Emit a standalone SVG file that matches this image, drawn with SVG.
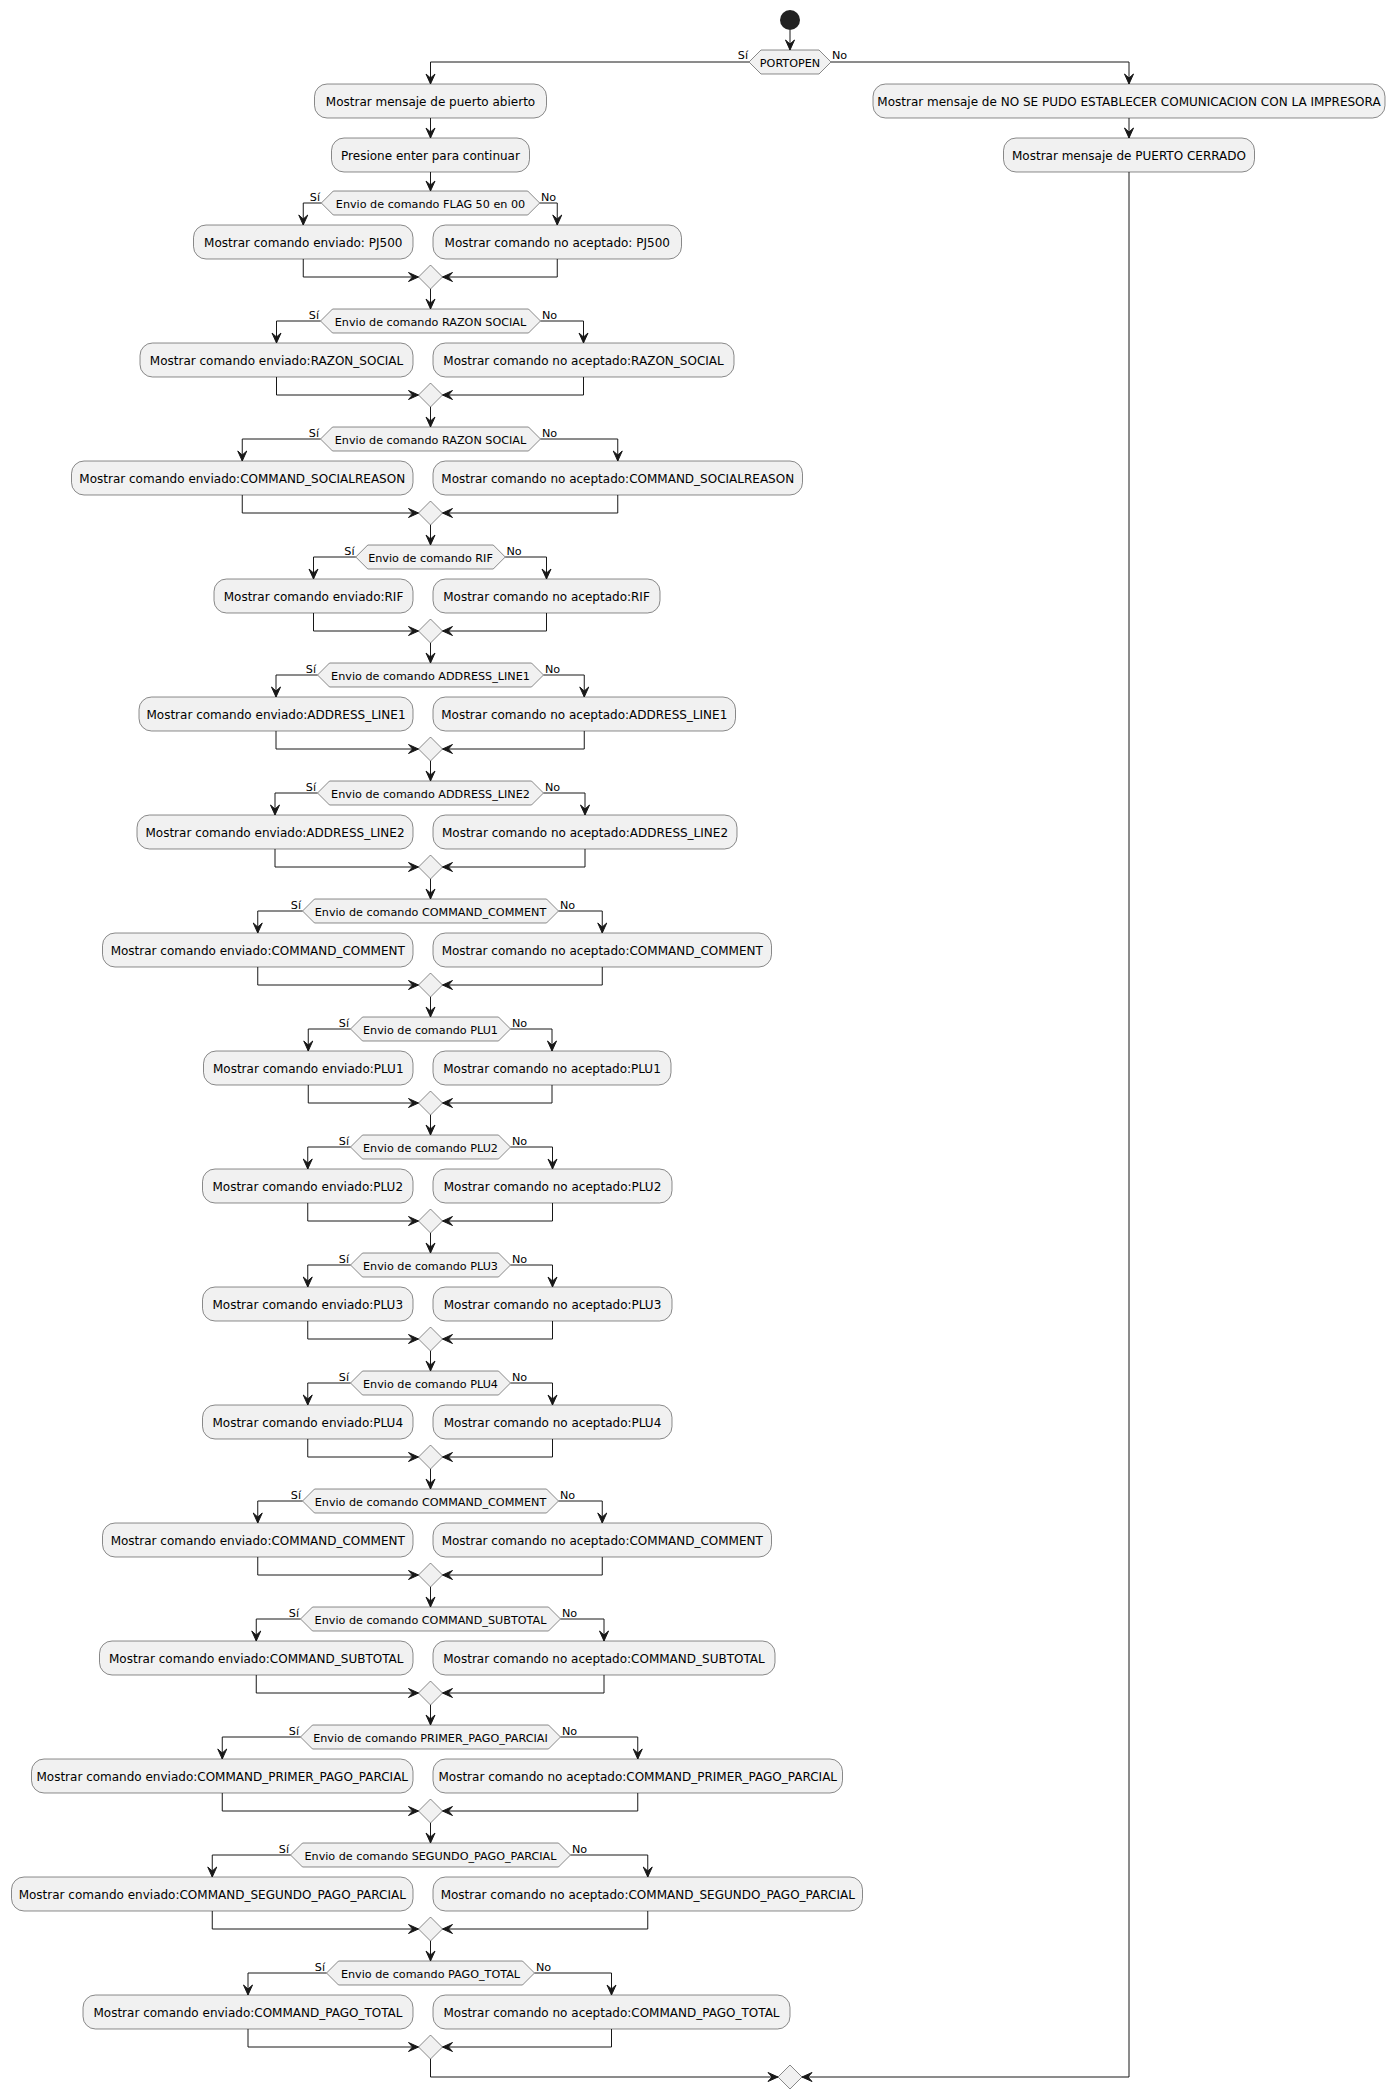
<svg xmlns="http://www.w3.org/2000/svg" width="1395" height="2100" viewBox="0 0 1395 2100">
<defs>
<style>
.box{fill:#F1F1F1;stroke:#181818;stroke-width:0.5}
.hex{fill:#F1F1F1;stroke:#181818;stroke-width:0.5}
.t{font-family:"DejaVu Sans",sans-serif;font-size:12px;fill:#000;text-anchor:middle}
.ht{font-family:"DejaVu Sans",sans-serif;font-size:11.2px;fill:#000;text-anchor:middle}
.si{font-family:"DejaVu Sans",sans-serif;font-size:11.2px;fill:#000;text-anchor:end}
.no{font-family:"DejaVu Sans",sans-serif;font-size:11.2px;fill:#000;text-anchor:start}
.c{fill:none;stroke:#181818;stroke-width:1;marker-end:url(#ah)}
</style>
<marker id="ah" markerWidth="14" markerHeight="12" refX="11" refY="6" orient="auto" markerUnits="userSpaceOnUse" viewBox="0 0 14 12"><path d="M1,1.5 L11,6 L1,10.5 L5,6 Z" fill="#181818" stroke="#181818" stroke-width="1" stroke-linejoin="miter"/></marker>
</defs>
<rect width="1395" height="2100" fill="#FFFFFF"/>
<g id="connectors">
<path class="c" d="M790,30 V50"/>
<path class="c" d="M749,62 H430.5 V84"/>
<path class="c" d="M430.5,118 V138"/>
<path class="c" d="M430.5,172 V191"/>
<path class="c" d="M831,62 H1129 V84"/>
<path class="c" d="M1129,118 V138"/>
<path class="c" d="M1129,172 V2077 H802"/>
<path class="c" d="M321.3,203 H303.25 V225"/><path class="c" d="M539.7,203 H557.25 V225"/>
<path class="c" d="M303.25,259 V277 H418.5"/><path class="c" d="M557.25,259 V277 H442.5"/>
<path class="c" d="M430.5,289 V309"/>
<path class="c" d="M320.5,321 H276.5 V343"/><path class="c" d="M540.5,321 H583.5 V343"/>
<path class="c" d="M276.5,377 V395 H418.5"/><path class="c" d="M583.5,377 V395 H442.5"/>
<path class="c" d="M430.5,407 V427"/>
<path class="c" d="M320.5,439 H242.25 V461"/><path class="c" d="M540.5,439 H617.75 V461"/>
<path class="c" d="M242.25,495 V513 H418.5"/><path class="c" d="M617.75,495 V513 H442.5"/>
<path class="c" d="M430.5,525 V545"/>
<path class="c" d="M355.75,557 H313.5 V579"/><path class="c" d="M505.25,557 H546.5 V579"/>
<path class="c" d="M313.5,613 V631 H418.5"/><path class="c" d="M546.5,613 V631 H442.5"/>
<path class="c" d="M430.5,643 V663"/>
<path class="c" d="M317.5,675 H276 V697"/><path class="c" d="M543.5,675 H584.25 V697"/>
<path class="c" d="M276,731 V749 H418.5"/><path class="c" d="M584.25,731 V749 H442.5"/>
<path class="c" d="M430.5,761 V781"/>
<path class="c" d="M317.5,793 H275 V815"/><path class="c" d="M543.5,793 H585 V815"/>
<path class="c" d="M275,849 V867 H418.5"/><path class="c" d="M585,849 V867 H442.5"/>
<path class="c" d="M430.5,879 V899"/>
<path class="c" d="M302.5,911 H257.75 V933"/><path class="c" d="M558.5,911 H602.25 V933"/>
<path class="c" d="M257.75,967 V985 H418.5"/><path class="c" d="M602.25,967 V985 H442.5"/>
<path class="c" d="M430.5,997 V1017"/>
<path class="c" d="M350.5,1029 H308.25 V1051"/><path class="c" d="M510.5,1029 H552 V1051"/>
<path class="c" d="M308.25,1085 V1103 H418.5"/><path class="c" d="M552,1085 V1103 H442.5"/>
<path class="c" d="M430.5,1115 V1135"/>
<path class="c" d="M350.5,1147 H307.75 V1169"/><path class="c" d="M510.5,1147 H552.5 V1169"/>
<path class="c" d="M307.75,1203 V1221 H418.5"/><path class="c" d="M552.5,1203 V1221 H442.5"/>
<path class="c" d="M430.5,1233 V1253"/>
<path class="c" d="M350.5,1265 H307.75 V1287"/><path class="c" d="M510.5,1265 H552.5 V1287"/>
<path class="c" d="M307.75,1321 V1339 H418.5"/><path class="c" d="M552.5,1321 V1339 H442.5"/>
<path class="c" d="M430.5,1351 V1371"/>
<path class="c" d="M350.5,1383 H307.75 V1405"/><path class="c" d="M510.5,1383 H552.5 V1405"/>
<path class="c" d="M307.75,1439 V1457 H418.5"/><path class="c" d="M552.5,1439 V1457 H442.5"/>
<path class="c" d="M430.5,1469 V1489"/>
<path class="c" d="M302.5,1501 H257.75 V1523"/><path class="c" d="M558.5,1501 H602.25 V1523"/>
<path class="c" d="M257.75,1557 V1575 H418.5"/><path class="c" d="M602.25,1557 V1575 H442.5"/>
<path class="c" d="M430.5,1587 V1607"/>
<path class="c" d="M300.5,1619 H256.25 V1641"/><path class="c" d="M560.5,1619 H604 V1641"/>
<path class="c" d="M256.25,1675 V1693 H418.5"/><path class="c" d="M604,1675 V1693 H442.5"/>
<path class="c" d="M430.5,1705 V1725"/>
<path class="c" d="M300.5,1737 H222.25 V1759"/><path class="c" d="M560.5,1737 H637.75 V1759"/>
<path class="c" d="M222.25,1793 V1811 H418.5"/><path class="c" d="M637.75,1793 V1811 H442.5"/>
<path class="c" d="M430.5,1823 V1843"/>
<path class="c" d="M290.5,1855 H212.25 V1877"/><path class="c" d="M570.5,1855 H647.75 V1877"/>
<path class="c" d="M212.25,1911 V1929 H418.5"/><path class="c" d="M647.75,1911 V1929 H442.5"/>
<path class="c" d="M430.5,1941 V1961"/>
<path class="c" d="M326.5,1973 H248 V1995"/><path class="c" d="M534.5,1973 H611.5 V1995"/>
<path class="c" d="M248,2029 V2047 H418.5"/><path class="c" d="M611.5,2029 V2047 H442.5"/>
<path class="c" d="M430.5,2059 V2077 H778"/>
</g>
<g id="start"><circle cx="790" cy="20" r="10" fill="#222222"/></g>
<g id="portopen"><polygon class="hex" points="749,62 761,50 819,50 831,62 819,74 761,74"/><text class="ht" x="790" y="66.5">PORTOPEN</text><text class="si" x="748" y="59">Sí</text><text class="no" x="832" y="59">No</text></g>
<g id="abierto"><rect class="box" x="314.5" y="84" width="232" height="34" rx="12.5"/><text class="t" x="430.5" y="105.5">Mostrar mensaje de puerto abierto</text></g>
<g id="presione"><rect class="box" x="331.5" y="138" width="198" height="34" rx="12.5"/><text class="t" x="430.5" y="159.5">Presione enter para continuar</text></g>
<g id="nocom"><rect class="box" x="873" y="84" width="512" height="34" rx="12.5"/><text class="t" x="1129" y="105.5">Mostrar mensaje de NO SE PUDO ESTABLECER COMUNICACION CON LA IMPRESORA</text></g>
<g id="cerrado"><rect class="box" x="1003.5" y="138" width="251" height="34" rx="12.5"/><text class="t" x="1129" y="159.5">Mostrar mensaje de PUERTO CERRADO</text></g>

<g id="d1"><polygon class="hex" points="321.3,203 333.3,191 527.7,191 539.7,203 527.7,215 333.3,215"/><text class="ht" x="430.5" y="207.5">Envio de comando FLAG 50 en 00</text><text class="si" x="320" y="200.5">Sí</text><text class="no" x="541" y="200.5">No</text></g>
<g id="s1"><rect class="box" x="193.5" y="225" width="219.5" height="34" rx="12.5"/><text class="t" x="303.25" y="246.5">Mostrar comando enviado: PJ500</text></g>
<g id="n1"><rect class="box" x="433" y="225" width="248.5" height="34" rx="12.5"/><text class="t" x="557.25" y="246.5">Mostrar comando no aceptado: PJ500</text></g>
<g id="m1"><polygon class="hex" points="430.5,265 442.5,277 430.5,289 418.5,277"/></g>

<g id="d2"><polygon class="hex" points="320.5,321 332.5,309 528.5,309 540.5,321 528.5,333 332.5,333"/><text class="ht" x="430.5" y="325.5">Envio de comando RAZON SOCIAL</text><text class="si" x="319" y="318.5">Sí</text><text class="no" x="542" y="318.5">No</text></g>
<g id="s2"><rect class="box" x="140" y="343" width="273" height="34" rx="12.5"/><text class="t" x="276.5" y="364.5">Mostrar comando enviado:RAZON_SOCIAL</text></g>
<g id="n2"><rect class="box" x="433" y="343" width="301" height="34" rx="12.5"/><text class="t" x="583.5" y="364.5">Mostrar comando no aceptado:RAZON_SOCIAL</text></g>
<g id="m2"><polygon class="hex" points="430.5,383 442.5,395 430.5,407 418.5,395"/></g>

<g id="d3"><polygon class="hex" points="320.5,439 332.5,427 528.5,427 540.5,439 528.5,451 332.5,451"/><text class="ht" x="430.5" y="443.5">Envio de comando RAZON SOCIAL</text><text class="si" x="319" y="436.5">Sí</text><text class="no" x="542" y="436.5">No</text></g>
<g id="s3"><rect class="box" x="71.5" y="461" width="341.5" height="34" rx="12.5"/><text class="t" x="242.25" y="482.5">Mostrar comando enviado:COMMAND_SOCIALREASON</text></g>
<g id="n3"><rect class="box" x="433" y="461" width="369.5" height="34" rx="12.5"/><text class="t" x="617.75" y="482.5">Mostrar comando no aceptado:COMMAND_SOCIALREASON</text></g>
<g id="m3"><polygon class="hex" points="430.5,501 442.5,513 430.5,525 418.5,513"/></g>

<g id="d4"><polygon class="hex" points="355.75,557 367.75,545 493.25,545 505.25,557 493.25,569 367.75,569"/><text class="ht" x="430.5" y="561.5">Envio de comando RIF</text><text class="si" x="354.5" y="554.5">Sí</text><text class="no" x="506.5" y="554.5">No</text></g>
<g id="s4"><rect class="box" x="214" y="579" width="199" height="34" rx="12.5"/><text class="t" x="313.5" y="600.5">Mostrar comando enviado:RIF</text></g>
<g id="n4"><rect class="box" x="433" y="579" width="227" height="34" rx="12.5"/><text class="t" x="546.5" y="600.5">Mostrar comando no aceptado:RIF</text></g>
<g id="m4"><polygon class="hex" points="430.5,619 442.5,631 430.5,643 418.5,631"/></g>

<g id="d5"><polygon class="hex" points="317.5,675 329.5,663 531.5,663 543.5,675 531.5,687 329.5,687"/><text class="ht" x="430.5" y="679.5">Envio de comando ADDRESS_LINE1</text><text class="si" x="316" y="672.5">Sí</text><text class="no" x="545" y="672.5">No</text></g>
<g id="s5"><rect class="box" x="139" y="697" width="274" height="34" rx="12.5"/><text class="t" x="276" y="718.5">Mostrar comando enviado:ADDRESS_LINE1</text></g>
<g id="n5"><rect class="box" x="433" y="697" width="302.5" height="34" rx="12.5"/><text class="t" x="584.25" y="718.5">Mostrar comando no aceptado:ADDRESS_LINE1</text></g>
<g id="m5"><polygon class="hex" points="430.5,737 442.5,749 430.5,761 418.5,749"/></g>

<g id="d6"><polygon class="hex" points="317.5,793 329.5,781 531.5,781 543.5,793 531.5,805 329.5,805"/><text class="ht" x="430.5" y="797.5">Envio de comando ADDRESS_LINE2</text><text class="si" x="316" y="790.5">Sí</text><text class="no" x="545" y="790.5">No</text></g>
<g id="s6"><rect class="box" x="137" y="815" width="276" height="34" rx="12.5"/><text class="t" x="275" y="836.5">Mostrar comando enviado:ADDRESS_LINE2</text></g>
<g id="n6"><rect class="box" x="433" y="815" width="304" height="34" rx="12.5"/><text class="t" x="585" y="836.5">Mostrar comando no aceptado:ADDRESS_LINE2</text></g>
<g id="m6"><polygon class="hex" points="430.5,855 442.5,867 430.5,879 418.5,867"/></g>

<g id="d7"><polygon class="hex" points="302.5,911 314.5,899 546.5,899 558.5,911 546.5,923 314.5,923"/><text class="ht" x="430.5" y="915.5">Envio de comando COMMAND_COMMENT</text><text class="si" x="301" y="908.5">Sí</text><text class="no" x="560" y="908.5">No</text></g>
<g id="s7"><rect class="box" x="102.5" y="933" width="310.5" height="34" rx="12.5"/><text class="t" x="257.75" y="954.5">Mostrar comando enviado:COMMAND_COMMENT</text></g>
<g id="n7"><rect class="box" x="433" y="933" width="338.5" height="34" rx="12.5"/><text class="t" x="602.25" y="954.5">Mostrar comando no aceptado:COMMAND_COMMENT</text></g>
<g id="m7"><polygon class="hex" points="430.5,973 442.5,985 430.5,997 418.5,985"/></g>

<g id="d8"><polygon class="hex" points="350.5,1029 362.5,1017 498.5,1017 510.5,1029 498.5,1041 362.5,1041"/><text class="ht" x="430.5" y="1033.5">Envio de comando PLU1</text><text class="si" x="349" y="1026.5">Sí</text><text class="no" x="512" y="1026.5">No</text></g>
<g id="s8"><rect class="box" x="203.5" y="1051" width="209.5" height="34" rx="12.5"/><text class="t" x="308.25" y="1072.5">Mostrar comando enviado:PLU1</text></g>
<g id="n8"><rect class="box" x="433" y="1051" width="238" height="34" rx="12.5"/><text class="t" x="552" y="1072.5">Mostrar comando no aceptado:PLU1</text></g>
<g id="m8"><polygon class="hex" points="430.5,1091 442.5,1103 430.5,1115 418.5,1103"/></g>

<g id="d9"><polygon class="hex" points="350.5,1147 362.5,1135 498.5,1135 510.5,1147 498.5,1159 362.5,1159"/><text class="ht" x="430.5" y="1151.5">Envio de comando PLU2</text><text class="si" x="349" y="1144.5">Sí</text><text class="no" x="512" y="1144.5">No</text></g>
<g id="s9"><rect class="box" x="202.5" y="1169" width="210.5" height="34" rx="12.5"/><text class="t" x="307.75" y="1190.5">Mostrar comando enviado:PLU2</text></g>
<g id="n9"><rect class="box" x="433" y="1169" width="239" height="34" rx="12.5"/><text class="t" x="552.5" y="1190.5">Mostrar comando no aceptado:PLU2</text></g>
<g id="m9"><polygon class="hex" points="430.5,1209 442.5,1221 430.5,1233 418.5,1221"/></g>

<g id="d10"><polygon class="hex" points="350.5,1265 362.5,1253 498.5,1253 510.5,1265 498.5,1277 362.5,1277"/><text class="ht" x="430.5" y="1269.5">Envio de comando PLU3</text><text class="si" x="349" y="1262.5">Sí</text><text class="no" x="512" y="1262.5">No</text></g>
<g id="s10"><rect class="box" x="202.5" y="1287" width="210.5" height="34" rx="12.5"/><text class="t" x="307.75" y="1308.5">Mostrar comando enviado:PLU3</text></g>
<g id="n10"><rect class="box" x="433" y="1287" width="239" height="34" rx="12.5"/><text class="t" x="552.5" y="1308.5">Mostrar comando no aceptado:PLU3</text></g>
<g id="m10"><polygon class="hex" points="430.5,1327 442.5,1339 430.5,1351 418.5,1339"/></g>

<g id="d11"><polygon class="hex" points="350.5,1383 362.5,1371 498.5,1371 510.5,1383 498.5,1395 362.5,1395"/><text class="ht" x="430.5" y="1387.5">Envio de comando PLU4</text><text class="si" x="349" y="1380.5">Sí</text><text class="no" x="512" y="1380.5">No</text></g>
<g id="s11"><rect class="box" x="202.5" y="1405" width="210.5" height="34" rx="12.5"/><text class="t" x="307.75" y="1426.5">Mostrar comando enviado:PLU4</text></g>
<g id="n11"><rect class="box" x="433" y="1405" width="239" height="34" rx="12.5"/><text class="t" x="552.5" y="1426.5">Mostrar comando no aceptado:PLU4</text></g>
<g id="m11"><polygon class="hex" points="430.5,1445 442.5,1457 430.5,1469 418.5,1457"/></g>

<g id="d12"><polygon class="hex" points="302.5,1501 314.5,1489 546.5,1489 558.5,1501 546.5,1513 314.5,1513"/><text class="ht" x="430.5" y="1505.5">Envio de comando COMMAND_COMMENT</text><text class="si" x="301" y="1498.5">Sí</text><text class="no" x="560" y="1498.5">No</text></g>
<g id="s12"><rect class="box" x="102.5" y="1523" width="310.5" height="34" rx="12.5"/><text class="t" x="257.75" y="1544.5">Mostrar comando enviado:COMMAND_COMMENT</text></g>
<g id="n12"><rect class="box" x="433" y="1523" width="338.5" height="34" rx="12.5"/><text class="t" x="602.25" y="1544.5">Mostrar comando no aceptado:COMMAND_COMMENT</text></g>
<g id="m12"><polygon class="hex" points="430.5,1563 442.5,1575 430.5,1587 418.5,1575"/></g>

<g id="d13"><polygon class="hex" points="300.5,1619 312.5,1607 548.5,1607 560.5,1619 548.5,1631 312.5,1631"/><text class="ht" x="430.5" y="1623.5">Envio de comando COMMAND_SUBTOTAL</text><text class="si" x="299" y="1616.5">Sí</text><text class="no" x="562" y="1616.5">No</text></g>
<g id="s13"><rect class="box" x="99.5" y="1641" width="313.5" height="34" rx="12.5"/><text class="t" x="256.25" y="1662.5">Mostrar comando enviado:COMMAND_SUBTOTAL</text></g>
<g id="n13"><rect class="box" x="433" y="1641" width="342" height="34" rx="12.5"/><text class="t" x="604" y="1662.5">Mostrar comando no aceptado:COMMAND_SUBTOTAL</text></g>
<g id="m13"><polygon class="hex" points="430.5,1681 442.5,1693 430.5,1705 418.5,1693"/></g>

<g id="d14"><polygon class="hex" points="300.5,1737 312.5,1725 548.5,1725 560.5,1737 548.5,1749 312.5,1749"/><text class="ht" x="430.5" y="1741.5">Envio de comando PRIMER_PAGO_PARCIAI</text><text class="si" x="299" y="1734.5">Sí</text><text class="no" x="562" y="1734.5">No</text></g>
<g id="s14"><rect class="box" x="31.5" y="1759" width="381.5" height="34" rx="12.5"/><text class="t" x="222.25" y="1780.5">Mostrar comando enviado:COMMAND_PRIMER_PAGO_PARCIAL</text></g>
<g id="n14"><rect class="box" x="433" y="1759" width="409.5" height="34" rx="12.5"/><text class="t" x="637.75" y="1780.5">Mostrar comando no aceptado:COMMAND_PRIMER_PAGO_PARCIAL</text></g>
<g id="m14"><polygon class="hex" points="430.5,1799 442.5,1811 430.5,1823 418.5,1811"/></g>

<g id="d15"><polygon class="hex" points="290.5,1855 302.5,1843 558.5,1843 570.5,1855 558.5,1867 302.5,1867"/><text class="ht" x="430.5" y="1859.5">Envio de comando SEGUNDO_PAGO_PARCIAL</text><text class="si" x="289" y="1852.5">Sí</text><text class="no" x="572" y="1852.5">No</text></g>
<g id="s15"><rect class="box" x="11.5" y="1877" width="401.5" height="34" rx="12.5"/><text class="t" x="212.25" y="1898.5">Mostrar comando enviado:COMMAND_SEGUNDO_PAGO_PARCIAL</text></g>
<g id="n15"><rect class="box" x="433" y="1877" width="429.5" height="34" rx="12.5"/><text class="t" x="647.75" y="1898.5">Mostrar comando no aceptado:COMMAND_SEGUNDO_PAGO_PARCIAL</text></g>
<g id="m15"><polygon class="hex" points="430.5,1917 442.5,1929 430.5,1941 418.5,1929"/></g>

<g id="d16"><polygon class="hex" points="326.5,1973 338.5,1961 522.5,1961 534.5,1973 522.5,1985 338.5,1985"/><text class="ht" x="430.5" y="1977.5">Envio de comando PAGO_TOTAL</text><text class="si" x="325" y="1970.5">Sí</text><text class="no" x="536" y="1970.5">No</text></g>
<g id="s16"><rect class="box" x="83" y="1995" width="330" height="34" rx="12.5"/><text class="t" x="248" y="2016.5">Mostrar comando enviado:COMMAND_PAGO_TOTAL</text></g>
<g id="n16"><rect class="box" x="433" y="1995" width="357" height="34" rx="12.5"/><text class="t" x="611.5" y="2016.5">Mostrar comando no aceptado:COMMAND_PAGO_TOTAL</text></g>
<g id="m16"><polygon class="hex" points="430.5,2035 442.5,2047 430.5,2059 418.5,2047"/></g>

<g id="mfinal"><polygon class="hex" points="790,2065 802,2077 790,2089 778,2077"/></g>
</svg>
